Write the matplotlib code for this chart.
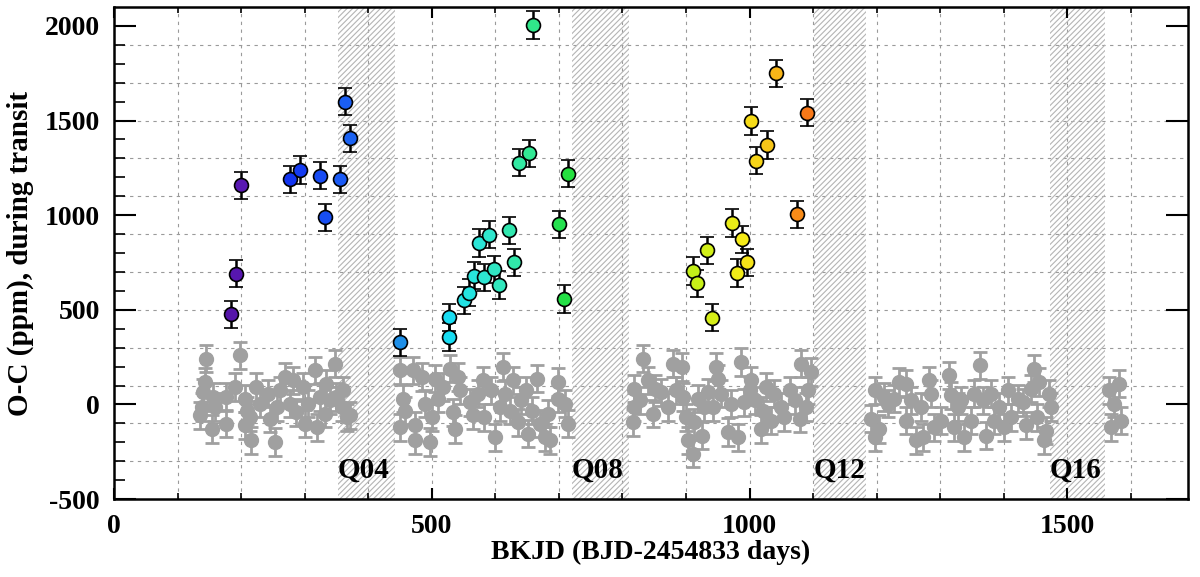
import numpy as np
import matplotlib
matplotlib.use("Agg")
import matplotlib.pyplot as plt
from matplotlib.colors import LinearSegmentedColormap

# out-of-transit residuals (grey), BKJD / ppm
oot_x = [145, 143, 140, 138, 135, 154, 159, 156, 177, 177, 190, 198, 206, 209, 206,
         216, 214, 224, 230, 243, 245, 253, 256, 261, 269, 277, 282, 287, 298, 300,
         306, 316, 319, 324, 332, 334, 340, 347, 350, 358, 366, 371, 361,
         450, 455, 450, 458, 471, 473, 473, 484, 489, 497, 500, 505, 510, 518, 528,
         534, 536, 541, 544, 560, 565, 573, 581, 583, 594, 599, 607, 612, 615, 623,
         628, 636, 641, 649, 652, 657, 665, 670, 678, 683, 686, 699, 699, 709, 714,
         832, 819, 819, 817, 827, 840, 848, 851, 861, 872, 879, 885, 893, 895, 900,
         903, 911, 913, 919, 926, 929, 934, 942, 948, 950, 955, 966, 971, 982, 987,
         992, 1000, 1003, 1008, 1018, 1021, 1026, 1034, 1039, 1050, 1055, 1063, 1071,
         1079, 1081, 1089, 1097, 1092,
         1197, 1191, 1204, 1197, 1212, 1218, 1228, 1236, 1246, 1246, 1254, 1262, 1270,
         1273, 1283, 1286, 1291, 1301, 1314, 1317, 1322, 1328, 1333, 1338, 1349, 1354,
         1362, 1367, 1372, 1380, 1385, 1393, 1401, 1406, 1411, 1422, 1430, 1435, 1443,
         1448, 1453, 1456, 1464, 1466, 1472, 1474,
         1566, 1582, 1574, 1584, 1569]
oot_y = [242, 118, 65, -14, -58, -129, -14, 39, -102, 39, 92, 259, 30, -32, -111,
         -190, -67, 92, 4, 56, -76, -199, -14, 74, 145, 4, 127, -41, 92, -102,
         4, 180, -120, 39, -49, 109, 21, 215, 39, -14, -67, -58, 74,
         180, 30, -120, -32, 180, -111, -190, 145, 4, -199, -67, 136, 30, 92, 189,
         -41, -129, 145, 74, 12, -58, 56, 127, -67, 74, -173, -14, 198, 56, -32,
         127, -94, 21, 74, -155, -32, 136, -102, -173, -49, -190, 118, 30, 4, -102,
         242, 83, -14, -94, 21, 127, -49, 83, 65, -14, 215, 74, 198, 39, -67,
         -190, -261, -94, 30, -164, -14, 65, -14, 198, 136, 56, -146, 4, -173, 224,
         12, 74, 127, 21, -129, -32, 92, -85, 56, -14, -67, 74, 21,
         -76, 215, -14, 171, 74,
         74, -76, -129, -173, 39, 4, 30, 118, 109, -85, 21, -190, -14,
         -173, 127, 56, -120, -85, 153, 48, -120, -14, 21, -173, -85, 56,
         206, 21, -164, 56, -85, -14, -120, 74, -67, 30, 12, -111, 83,
         189, -67, 118, -190, -138, 56, -14,
         74, 109, 4, -85, -120]

# in-transit residuals (coloured)
tr_x = [184, 192, 200, 277, 293, 324, 332, 356, 363, 372, 450,
        527, 527, 551, 559, 566, 574, 582, 590, 598, 606, 621, 629, 637, 653, 660,
        700, 708, 715, 911, 918, 933, 941, 972, 981, 988, 996, 1003, 1011,
        1027, 1042, 1074, 1090]
tr_y = [476, 691, 1157, 1190, 1238, 1208, 988, 1190, 1600, 1406, 328,
        356, 460, 550, 591, 681, 853, 672, 896, 713, 631, 919, 751, 1277, 1326, 2004,
        952, 557, 1219, 705, 639, 815, 459, 959, 695, 873, 750, 1497, 1287,
        1370, 1750, 1005, 1541]
ERR = 72

# data gaps (hatched) and their quarter names
gap_lo = [352, 720, 1101, 1473]
gap_hi = [442, 811, 1184, 1560]
gap_names = ["Q04", "Q08", "Q12", "Q16"]

# colour ramp along time, picked off the figure
ramp_t = [150, 200, 270, 360, 450, 530, 590, 650, 710, 920, 990, 1040, 1090]
ramp_c = ["#4a0c92", "#5a18b4", "#1232f0", "#1a5cf5", "#1e90e8", "#18e0f2",
          "#30e6cc", "#32e896", "#22e040", "#c8f018", "#f5eb18", "#f8b818", "#f87818"]

plt.rcParams["font.family"] = "Liberation Serif"
plt.rcParams["font.weight"] = "bold"
plt.rcParams["axes.labelweight"] = "bold"
plt.rcParams["axes.unicode_minus"] = False
plt.rcParams["hatch.linewidth"] = 0.8

fig = plt.figure(figsize=(12, 5.77), dpi=100)
ax = fig.add_axes([0.095, 0.135, 0.895, 0.853])

XMIN, XMAX, YMIN, YMAX = 0, 1690, -500, 2100
ax.set_xlim(XMIN, XMAX)
ax.set_ylim(YMIN, YMAX)

# IDL-ish grid: every 100 d, every 200 ppm from the bottom
for gx in np.arange(100, XMAX, 100):
    ax.axvline(gx, color="#9a9a9a", lw=0.8, ls=(0, (3, 4)), zorder=0)
for gy in np.arange(YMIN + 200, YMAX, 200):
    ax.axhline(gy, color="#9a9a9a", lw=0.8, ls=(0, (3, 4)), zorder=0)

for lo, hi, name in zip(gap_lo, gap_hi, gap_names):
    ax.axvspan(lo, hi, facecolor="none", edgecolor="#b4b4b4", hatch="//////",
               linewidth=0, zorder=1)
    ax.text(lo, -345, name, fontsize=21, fontweight="bold", ha="left",
            va="center", zorder=5)

ax.errorbar(oot_x, oot_y, yerr=ERR, fmt="o", color="#a0a0a0", ms=10,
            elinewidth=2, capsize=5, capthick=2, zorder=2)

pos = [(t - ramp_t[0]) / (ramp_t[-1] - ramp_t[0]) for t in ramp_t]
cmap = LinearSegmentedColormap.from_list("ramp", list(zip(pos, ramp_c)))
for x, y in zip(tr_x, tr_y):
    c = cmap((x - ramp_t[0]) / (ramp_t[-1] - ramp_t[0]))
    ax.errorbar(x, y, yerr=ERR, fmt="o", mfc=c, mec="black", mew=1.2, ms=10,
                ecolor="black", elinewidth=1.8, capsize=5, capthick=1.8, zorder=3)

ax.set_xticks([0, 500, 1000, 1500])
ax.set_xticks(np.arange(0, XMAX, 100), minor=True)
ax.set_yticks([-500, 0, 500, 1000, 1500, 2000])
ax.set_yticks(np.arange(-500, YMAX, 100), minor=True)
ax.tick_params(axis="x", which="major", direction="in", length=8, width=1.5,
               top=True, labelsize=20, pad=11)
ax.tick_params(axis="x", which="minor", direction="in", length=4, width=1.2, top=True)
ax.tick_params(axis="y", which="major", direction="in", length=16, width=1.5,
               right=True, labelsize=20, pad=10)
ax.tick_params(axis="y", which="minor", direction="in", length=8, width=1.2)
for s in ax.spines.values():
    s.set_linewidth(1.8)

ax.set_xlabel("BKJD (BJD-2454833 days)", fontsize=20, labelpad=0)
ax.set_ylabel("O-C (ppm), during transit", fontsize=21, labelpad=8)

fig.savefig("out.png", dpi=100)
